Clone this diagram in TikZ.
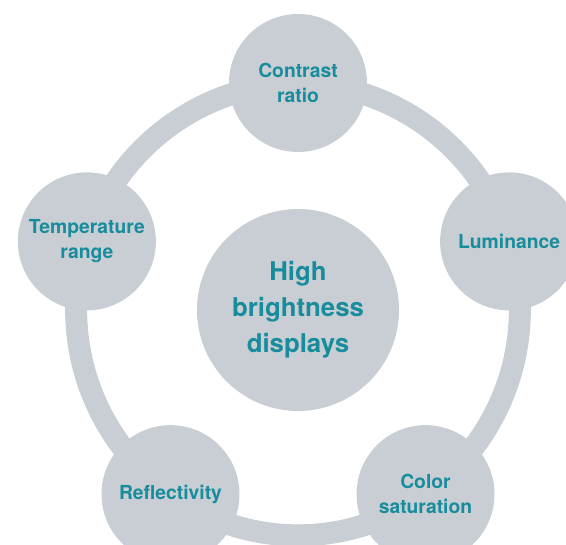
\documentclass[tikz,border=0pt]{standalone}
\usepackage{fontspec}
\setmainfont{TeX Gyre Heros}
\usepackage{tikz}
\usetikzlibrary{backgrounds}

\definecolor{ringgray}{HTML}{C8CED3}
\definecolor{tealtext}{HTML}{178C9C}

\begin{document}
\begin{tikzpicture}[x=1pt,y=1pt,
    topic/.style={circle,fill=ringgray,text=tealtext,align=center,inner sep=0pt,
      minimum size=138pt,font=\bfseries\fontsize{19.3}{25}\selectfont},
    hub/.style={topic,minimum size=202pt,font=\bfseries\fontsize{25.8}{36}\selectfont},
    ring/.style={draw=ringgray,line width=22pt}]
    \useasboundingbox (-298,-235) rectangle (268,310);

    \node[hub]   (H) at (0,0)     {High\\brightness\\displays};
    \node[topic] (C) at (90:227)  {Contrast\\ratio};
    \node[topic] (L) at (18:222)  {Luminance};
    \node[topic] (S) at (-55.3:224) {Color\\saturation};
    \node[topic] (R) at (-124.7:224) {Reflectivity};
    \node[topic] (T) at (162:222) {Temperature\\range};

    % ring behind the circles
    \begin{scope}[on background layer]
        \draw[ring] (C.center) to[bend left=36,looseness=.94] (L.center)
            to[bend left=36,looseness=.94] (S.center)
            to[bend left=36,looseness=.94] (R.center)
            to[bend left=36,looseness=.94] (T.center)
            to[bend left=36,looseness=.94] (C.center);
    \end{scope}
\end{tikzpicture}
\end{document}
